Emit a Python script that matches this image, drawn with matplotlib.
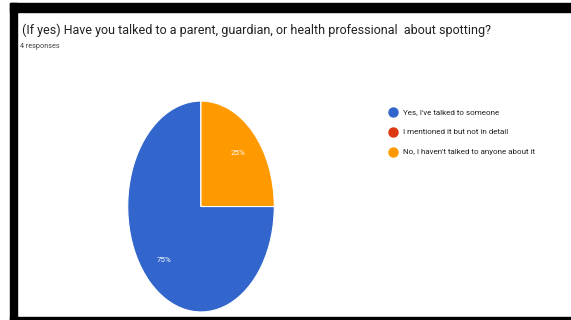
import matplotlib.pyplot as plt
from matplotlib.lines import Line2D
from matplotlib.patches import Rectangle

# Survey answers and counts
answers = ["Yes, I've talked to someone",
           "I mentioned it but not in detail",
           "No, I haven't talked to anyone about it"]
counts = [3, 0, 1]
colors = ['#3366CC', '#DC3912', '#FF9900']

title = "(If yes) Have you talked to a parent, guardian, or health professional  about spotting?"
subtitle = "4 responses"

FONT = 'Roboto'

W, H = 571, 320
fig = plt.figure(figsize=(W / 100, H / 100), dpi=100)
fig.patch.set_facecolor('white')

# Black frame along the top, left and bottom edges
for x0, y0, w, h in [(10, 3, W - 10, 9), (10, 3, 7, H - 3), (10, 317, W - 10, 3)]:
    fig.patches.append(Rectangle((x0 / W, 1 - (y0 + h) / H), w / W, h / H,
                                 transform=fig.transFigure, color='black',
                                 zorder=5))

# Title and response count
fig.text(22 / W, 1 - 30 / H, title, family=FONT, fontsize=9.0,
         color='#212121', va='center', ha='left')
fig.text(20 / W, 1 - 47 / H, subtitle, family=FONT, fontsize=5.2,
         color='#444444', va='center', ha='left')

# Pie chart (stretched vertically, so the axes aspect stays free)
ax = fig.add_axes([127 / W, (H - 313) / H, 148 / W, 213 / H])


def pct(p):
    return f'{p:.0f}%' if p > 0 else ''


wedges, texts, autotexts = ax.pie(counts, colors=colors, startangle=0,
                                  counterclock=False, autopct=pct,
                                  pctdistance=0.72,
                                  wedgeprops=dict(edgecolor='white', linewidth=0.8),
                                  textprops=dict(color='white', fontsize=5.8,
                                                 family=FONT))
ax.set_aspect('auto')
ax.set_xlim(-1.01, 1.01)
ax.set_ylim(-1.01, 1.01)

# Legend with round markers
for i, (label, color) in enumerate(zip(answers, colors)):
    y = 1 - (112 + 20 * i) / H
    fig.add_artist(Line2D([393 / W], [y], marker='o', markersize=6.5,
                          color=color, linestyle='none',
                          transform=fig.transFigure))
    fig.text(403 / W, y, label, family=FONT, fontsize=5.8,
             color='#222222', va='center', ha='left')

fig.savefig('out.png', dpi=100)
